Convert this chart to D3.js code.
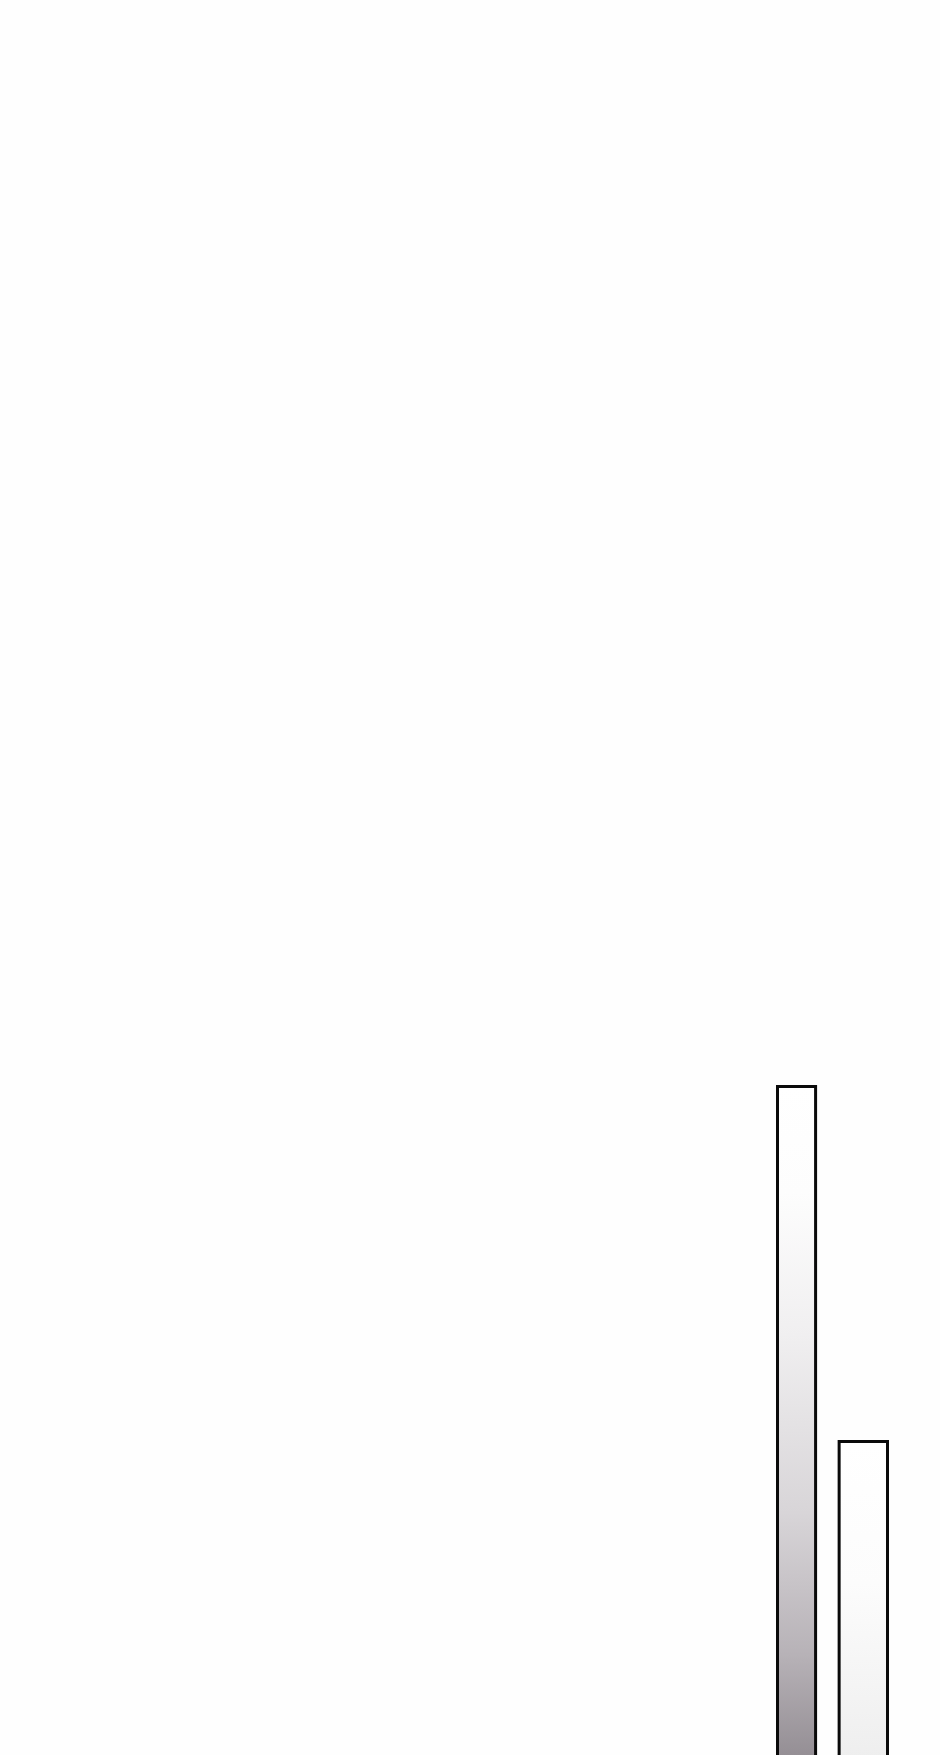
<!DOCTYPE html>
<html>
<head>
<meta charset="utf-8">
<script src="https://cdn.jsdelivr.net/npm/d3@7"></script>
<style>
  body { margin: 0; background: #fefefe; }
  svg { display: block; }
</style>
</head>
<body>
<svg id="chart"></svg>
<script>
// bins (start, end) on the x axis and the bar values
var binStart = [0, 6];
var binEnd = [4, 11];
var values = [100, 50];
var gradStops = [
  [[0, "#ffffff"], [0.15, "#fdfdfd"], [0.35, "#f0eff0"], [0.6, "#d8d5d8"], [0.8, "#b7b2b7"], [0.95, "#938d93"], [1, "#8c868c"]],
  [[0, "#ffffff"], [0.4, "#fcfcfc"], [0.9, "#eeeeee"], [1, "#ebebeb"]]
];

var w = 940;
var h = 1755;
var stroke = 3;

var svg = d3.select("#chart")
  .attr("width", w)
  .attr("height", h);

svg.append("rect")
  .attr("width", w)
  .attr("height", h)
  .attr("fill", "#fefefe");

// baseline sits just below the visible area
var x = d3.scaleLinear().domain([0, 11]).range([776, w - 51]);
var y = d3.scaleLinear().domain([0, 100]).range([1795, 1085]);

var data = values.map(function (v, i) {
  return { x0: binStart[i], x1: binEnd[i], v: v, stops: gradStops[i] };
});

var defs = svg.append("defs");
data.forEach(function (d, i) {
  var g = defs.append("linearGradient")
    .attr("id", "grad" + i)
    .attr("x1", 0).attr("y1", 0)
    .attr("x2", 0).attr("y2", 1);
  d.stops.forEach(function (s) {
    g.append("stop").attr("offset", s[0]).attr("stop-color", s[1]);
  });
});

svg.selectAll("rect.bar")
  .data(data)
  .enter()
  .append("rect")
  .attr("class", "bar")
  .attr("x", function (d) { return x(d.x0) + stroke / 2; })
  .attr("width", function (d) { return x(d.x1) - x(d.x0) - stroke; })
  .attr("y", function (d) { return y(d.v) + stroke / 2; })
  .attr("height", function (d) { return y(0) - y(d.v); })
  .attr("fill", function (d, i) { return "url(#grad" + i + ")"; })
  .attr("stroke", "#0a0a0a")
  .attr("stroke-width", stroke);
</script>
</body>
</html>
